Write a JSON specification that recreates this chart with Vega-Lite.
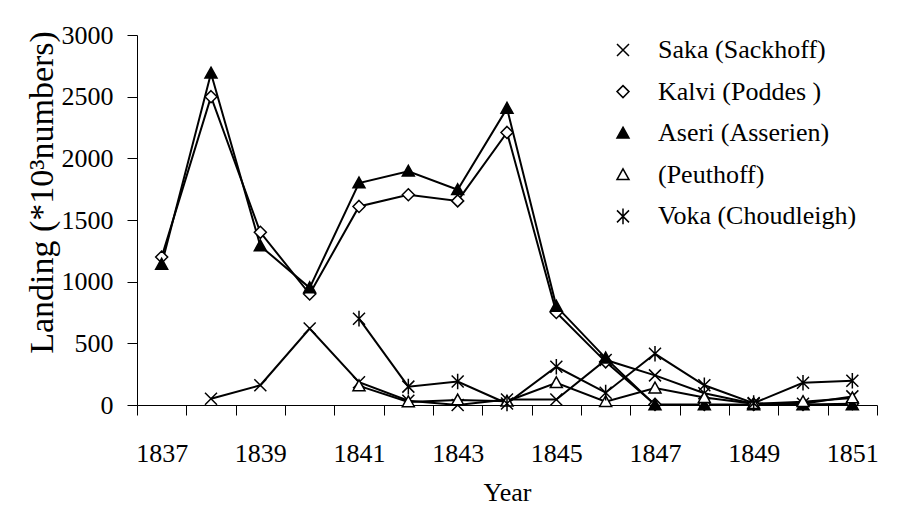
{
  "$schema": "https://vega.github.io/schema/vega-lite/v6.json",
  "width": 740,
  "height": 370,
  "autosize": {"type": "none"},
  "padding": {"left": 137, "top": 35, "right": 23, "bottom": 113},
  "background": "white",
  "config": {
    "view": {"stroke": null},
    "font": "Liberation Serif",
    "axis": {
      "labelFont": "Liberation Serif",
      "titleFont": "Liberation Serif",
      "labelColor": "black",
      "titleColor": "black",
      "domainColor": "black",
      "tickColor": "black",
      "titleFontWeight": "normal",
      "grid": false
    },
    "legend": {
      "labelFont": "Liberation Serif",
      "labelColor": "black",
      "labelLimit": 0
    }
  },
  "data": {
    "values": [
      {"year": 1838, "series": "Saka (Sackhoff)", "landing": 50},
      {"year": 1839, "series": "Saka (Sackhoff)", "landing": 160},
      {"year": 1840, "series": "Saka (Sackhoff)", "landing": 620},
      {"year": 1841, "series": "Saka (Sackhoff)", "landing": 185},
      {"year": 1842, "series": "Saka (Sackhoff)", "landing": 35},
      {"year": 1843, "series": "Saka (Sackhoff)", "landing": 0},
      {"year": 1844, "series": "Saka (Sackhoff)", "landing": 45},
      {"year": 1845, "series": "Saka (Sackhoff)", "landing": 45},
      {"year": 1846, "series": "Saka (Sackhoff)", "landing": 365},
      {"year": 1847, "series": "Saka (Sackhoff)", "landing": 240},
      {"year": 1848, "series": "Saka (Sackhoff)", "landing": 95},
      {"year": 1849, "series": "Saka (Sackhoff)", "landing": 10},
      {"year": 1850, "series": "Saka (Sackhoff)", "landing": 10},
      {"year": 1851, "series": "Saka (Sackhoff)", "landing": 70},
      {"year": 1837, "series": "Kalvi (Poddes )", "landing": 1200},
      {"year": 1838, "series": "Kalvi (Poddes )", "landing": 2500},
      {"year": 1839, "series": "Kalvi (Poddes )", "landing": 1400},
      {"year": 1840, "series": "Kalvi (Poddes )", "landing": 900},
      {"year": 1841, "series": "Kalvi (Poddes )", "landing": 1610},
      {"year": 1842, "series": "Kalvi (Poddes )", "landing": 1705},
      {"year": 1843, "series": "Kalvi (Poddes )", "landing": 1655},
      {"year": 1844, "series": "Kalvi (Poddes )", "landing": 2210},
      {"year": 1845, "series": "Kalvi (Poddes )", "landing": 750},
      {"year": 1846, "series": "Kalvi (Poddes )", "landing": 350},
      {"year": 1847, "series": "Kalvi (Poddes )", "landing": 5},
      {"year": 1848, "series": "Kalvi (Poddes )", "landing": 5},
      {"year": 1849, "series": "Kalvi (Poddes )", "landing": 5},
      {"year": 1850, "series": "Kalvi (Poddes )", "landing": 5},
      {"year": 1851, "series": "Kalvi (Poddes )", "landing": 10},
      {"year": 1837, "series": "Aseri (Asserien)", "landing": 1140},
      {"year": 1838, "series": "Aseri (Asserien)", "landing": 2690},
      {"year": 1839, "series": "Aseri (Asserien)", "landing": 1290},
      {"year": 1840, "series": "Aseri (Asserien)", "landing": 950},
      {"year": 1841, "series": "Aseri (Asserien)", "landing": 1800},
      {"year": 1842, "series": "Aseri (Asserien)", "landing": 1895},
      {"year": 1843, "series": "Aseri (Asserien)", "landing": 1745},
      {"year": 1844, "series": "Aseri (Asserien)", "landing": 2405},
      {"year": 1845, "series": "Aseri (Asserien)", "landing": 800},
      {"year": 1846, "series": "Aseri (Asserien)", "landing": 380},
      {"year": 1847, "series": "Aseri (Asserien)", "landing": 0},
      {"year": 1848, "series": "Aseri (Asserien)", "landing": 0},
      {"year": 1849, "series": "Aseri (Asserien)", "landing": 0},
      {"year": 1850, "series": "Aseri (Asserien)", "landing": 0},
      {"year": 1851, "series": "Aseri (Asserien)", "landing": 0},
      {"year": 1841, "series": "(Peuthoff)", "landing": 155},
      {"year": 1842, "series": "(Peuthoff)", "landing": 25},
      {"year": 1843, "series": "(Peuthoff)", "landing": 40},
      {"year": 1844, "series": "(Peuthoff)", "landing": 30},
      {"year": 1845, "series": "(Peuthoff)", "landing": 180},
      {"year": 1846, "series": "(Peuthoff)", "landing": 27},
      {"year": 1847, "series": "(Peuthoff)", "landing": 137},
      {"year": 1848, "series": "(Peuthoff)", "landing": 60},
      {"year": 1849, "series": "(Peuthoff)", "landing": 10},
      {"year": 1850, "series": "(Peuthoff)", "landing": 27},
      {"year": 1851, "series": "(Peuthoff)", "landing": 57},
      {"year": 1841, "series": "Voka (Choudleigh)", "landing": 700},
      {"year": 1842, "series": "Voka (Choudleigh)", "landing": 149},
      {"year": 1843, "series": "Voka (Choudleigh)", "landing": 190},
      {"year": 1844, "series": "Voka (Choudleigh)", "landing": 12},
      {"year": 1845, "series": "Voka (Choudleigh)", "landing": 310},
      {"year": 1846, "series": "Voka (Choudleigh)", "landing": 100},
      {"year": 1847, "series": "Voka (Choudleigh)", "landing": 415},
      {"year": 1848, "series": "Voka (Choudleigh)", "landing": 160},
      {"year": 1849, "series": "Voka (Choudleigh)", "landing": 15},
      {"year": 1850, "series": "Voka (Choudleigh)", "landing": 180},
      {"year": 1851, "series": "Voka (Choudleigh)", "landing": 197}
    ]
  },
  "encoding": {
    "x": {
      "field": "year",
      "type": "quantitative",
      "scale": {"domain": [1836.5, 1851.5], "nice": false, "zero": false},
      "axis": {
        "title": "Year",
        "titleFont": "Liberation Serif",
        "titleFontSize": 26,
        "titlePadding": 13,
        "labelFont": "Liberation Serif",
        "labelFontSize": 26,
        "labelPadding": 25,
        "labelOverlap": false,
        "labelFlush": false,
        "tickSize": 10,
        "tickWidth": 1,
        "domainWidth": 1,
        "values": [1836.5, 1837, 1837.5, 1838.5, 1839, 1839.5, 1840.5, 1841, 1841.5, 1842.5, 1843, 1843.5, 1844.5, 1845, 1845.5, 1846.5, 1847, 1847.5, 1848.5, 1849, 1849.5, 1850.5, 1851, 1851.5],
        "labelExpr": "datum.value % 2 == 1 ? format(datum.value, 'd') : ''",
        "tickOpacity": {"condition": {"test": "datum.value % 1 != 0", "value": 1}, "value": 0}
      }
    },
    "y": {
      "field": "landing",
      "type": "quantitative",
      "scale": {"domain": [0, 3000], "nice": false},
      "axis": {
        "title": "Landing (*10³numbers)",
        "titleFont": "Liberation Serif",
        "titleFontSize": 34,
        "titlePadding": 2,
        "titleY": 157,
        "labelFont": "Liberation Serif",
        "labelFontSize": 26,
        "labelPadding": 14,
        "tickSize": 10,
        "format": "d",
        "values": [0, 500, 1000, 1500, 2000, 2500, 3000]
      }
    }
  },
  "layer": [
    {
      "mark": {"type": "line", "color": "black", "strokeWidth": 2},
      "encoding": {"detail": {"field": "series"}}
    },
    {
      "mark": {"type": "point", "filled": true, "stroke": "black", "strokeWidth": 1.5, "size": 144, "opacity": 1},
      "encoding": {
        "shape": {
          "field": "series",
          "type": "nominal",
          "scale": {
            "domain": ["Saka (Sackhoff)", "Kalvi (Poddes )", "Aseri (Asserien)", "(Peuthoff)", "Voka (Choudleigh)"],
            "range": ["M-1,-1L1,1M-1,1L1,-1", "M0,-1L1,0L0,1L-1,0Z", "M0,-1L1,0.8L-1,0.8Z", "M0,-1L1,0.8L-1,0.8Z", "M-1,-1L1,1M-1,1L1,-1M0,-1.3L0,1.3"]
          },
          "legend": {
            "title": null,
            "orient": "none",
            "legendX": 473,
            "legendY": 2,
            "labelFont": "Liberation Serif",
            "labelFontSize": 26,
            "labelLimit": 0,
            "labelOffset": 22,
            "rowPadding": 15.6,
            "symbolSize": 144,
            "symbolStrokeWidth": 1.5,
            "symbolStrokeColor": "black",
            "symbolFillColor": "white",
            "encode": {
              "symbols": {
                "update": {
                  "fill": {"signal": "datum.value === 'Aseri (Asserien)' ? 'black' : 'white'"},
                  "stroke": {"value": "black"},
                  "strokeWidth": {"value": 1.5}
                }
              }
            }
          }
        },
        "fill": {
          "field": "series",
          "type": "nominal",
          "legend": null,
          "scale": {
            "domain": ["Saka (Sackhoff)", "Kalvi (Poddes )", "Aseri (Asserien)", "(Peuthoff)", "Voka (Choudleigh)"],
            "range": ["white", "white", "black", "white", "white"]
          }
        }
      }
    }
  ]
}
